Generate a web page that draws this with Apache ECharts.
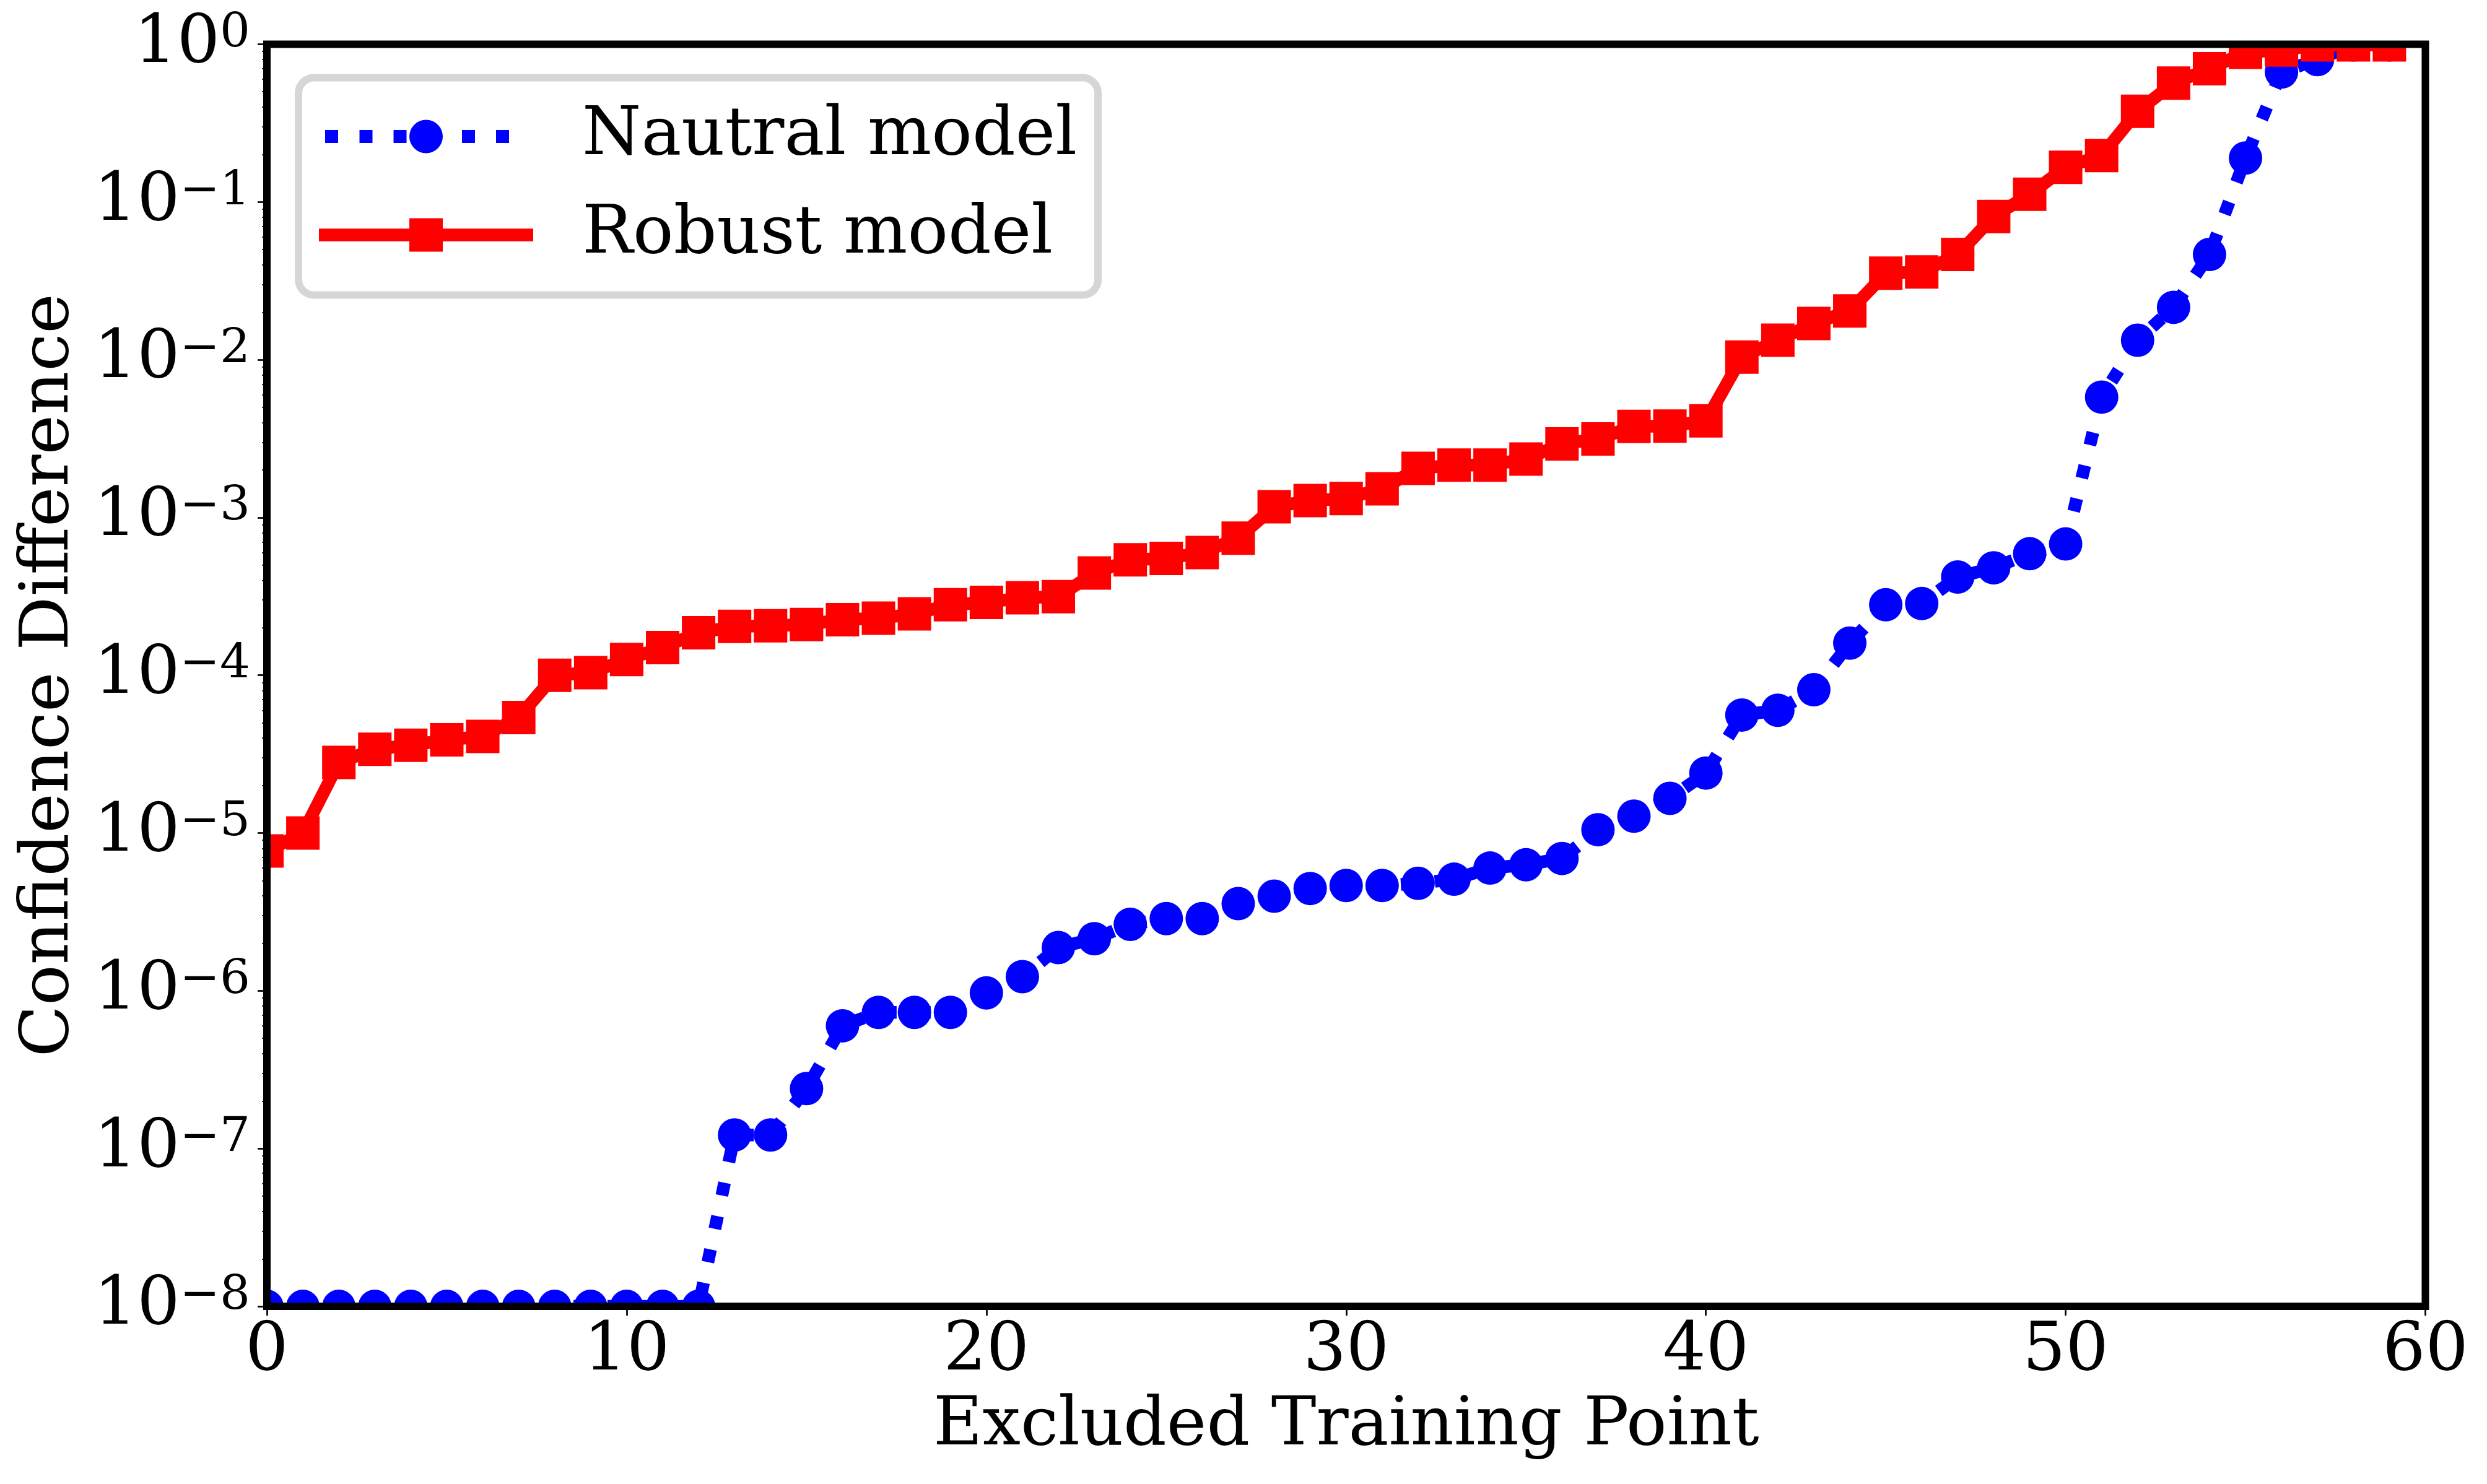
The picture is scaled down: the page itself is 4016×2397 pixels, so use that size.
<!DOCTYPE html>
<html>
<head>
<meta charset="utf-8">
<script src="https://cdn.jsdelivr.net/npm/echarts@6/dist/echarts.min.js"></script>
<style>
html,body{margin:0;padding:0;background:#fff;}
#c{width:4016px;height:2397px;}
</style>
</head>
<body>
<div id="c"></div>
<script>
// ---- data ----
const excludedPoints = [
  0,1,2,3,4,5,6,7,8,9,
  10,11,12,13,14,15,16,17,18,19,
  20,21,22,23,24,25,26,27,28,29,
  30,31,32,33,34,35,36,37,38,39,
  40,41,42,43,44,45,46,47,48,49,
  50,51,52,53,54,55,56,57,58,59
];
const nautralModel = [
  1e-8, 1e-8, 1e-8, 1e-8, 1e-8, 1e-8, 1e-8, 1e-8, 1e-8, 1e-8,
  1e-8, 1e-8, 1e-8, 1.22e-7, 1.22e-7, 2.4e-7, 6.0e-7, 7.3e-7, 7.3e-7, 7.3e-7,
  9.7e-7, 1.23e-6, 1.88e-6, 2.14e-6, 2.64e-6, 2.87e-6, 2.87e-6, 3.57e-6, 3.98e-6, 4.45e-6,
  4.65e-6, 4.65e-6, 4.8e-6, 5.1e-6, 6.0e-6, 6.3e-6, 6.9e-6, 1.05e-5, 1.28e-5, 1.66e-5,
  2.4e-5, 5.6e-5, 6.0e-5, 8.1e-5, 1.6e-4, 2.8e-4, 2.85e-4, 4.2e-4, 4.8e-4, 5.9e-4,
  6.8e-4, 5.8e-3, 1.33e-2, 2.15e-2, 4.65e-2, 0.19, 0.667, 0.80, 0.99, 0.99
];
const robustModel = [
  7.7e-6, 1.0e-5, 2.8e-5, 3.4e-5, 3.6e-5, 3.9e-5, 4.1e-5, 5.4e-5, 1.0e-4, 1.04e-4,
  1.26e-4, 1.5e-4, 1.86e-4, 2.04e-4, 2.06e-4, 2.1e-4, 2.25e-4, 2.3e-4, 2.45e-4, 2.8e-4,
  2.9e-4, 3.1e-4, 3.15e-4, 4.45e-4, 5.4e-4, 5.5e-4, 6.0e-4, 7.4e-4, 1.17e-3, 1.28e-3,
  1.32e-3, 1.52e-3, 2.05e-3, 2.15e-3, 2.15e-3, 2.35e-3, 2.93e-3, 3.15e-3, 3.78e-3, 3.8e-3,
  4.1e-3, 1.04e-2, 1.33e-2, 1.7e-2, 2.04e-2, 3.54e-2, 3.6e-2, 4.65e-2, 8.1e-2, 1.12e-1,
  1.66e-1, 1.97e-1, 3.76e-1, 5.67e-1, 7.0e-1, 0.89, 0.92, 0.99, 0.99, 0.99
];
const xTickValues = [0, 10, 20, 30, 40, 50, 60];
const yMajorTicks = [1e-8, 1e-7, 1e-6, 1e-5, 1e-4, 1e-3, 1e-2, 1e-1, 1];
const seriesNames = ['Nautral model', 'Robust model'];
const xAxisTitle = 'Excluded Training Point';
const yAxisTitle = 'Confidence Difference';

const yMinorTicks = [];
for (let i = 0; i < yMajorTicks.length - 1; i++) {
  for (let k = 2; k <= 9; k++) yMinorTicks.push(k * yMajorTicks[i]);
}

// ---- layout / style ----
const FONT = 'DejaVu Serif';
const FS = 109;
const G = { left: 431, top: 71.5, width: 3485.5, height: 2038.5 };
const right = G.left + G.width, bottom = G.top + G.height;

// legend handle icons (line + marker), drawn in a 346 x 54 box
const ICON_W = 346, ICON_H = 54;
const robustIcon = 'path://M0,16.75 L346,16.75 L346,37.25 L0,37.25 Z ' +
  'M146,0 L200,0 L200,54 L146,54 Z';
const nautralIcon = 'path://M0,27 L0.01,27 L0,27.01 Z M346,27 L345.99,27 L346,27.01 Z ' +
  'M10,16.5 L31,16.5 L31,37.5 L10,37.5 Z ' +
  'M65.5,16.5 L86.5,16.5 L86.5,37.5 L65.5,37.5 Z ' +
  'M120.5,16.5 L141.5,16.5 L141.5,37.5 L120.5,37.5 Z ' +
  'M231,16.5 L252,16.5 L252,37.5 L231,37.5 Z ' +
  'M286,16.5 L307,16.5 L307,37.5 L286,37.5 Z ' +
  'M146,27 A27,27 0 1 1 200,27 A27,27 0 1 1 146,27 Z';

const chart = echarts.init(document.getElementById('c'), null, { renderer: 'canvas' });

function supLabel(v) {
  const e = Math.round(Math.log10(v));
  const s = e < 0 ? '\u2212' + Math.abs(e) : String(e);
  return '{b|10}{s|' + s + '}';
}

const option = {
  animation: false,
  backgroundColor: '#fff',
  grid: {
    left: G.left, top: G.top, width: G.width, height: G.height,
    show: true, borderColor: '#000', borderWidth: 12, backgroundColor: 'transparent',
    containLabel: false, outerBoundsMode: 'none', z: 100
  },
  legend: {
    orient: 'vertical',
    left: 482, top: 125.5,
    itemWidth: ICON_W, itemHeight: ICON_H, itemGap: 49,
    padding: [40, 34, 42, 33],
    borderColor: '#d6d6d6', borderWidth: 12, borderRadius: 25,
    backgroundColor: '#fff',
    itemStyle: { borderWidth: 0 },
    symbolKeepAspect: false,
    textStyle: { fontFamily: FONT, fontSize: FS, color: '#000', lineHeight: 110, padding: [0, 0, 0, 74] },
    data: [
      { name: seriesNames[0], icon: nautralIcon },
      { name: seriesNames[1], icon: robustIcon }
    ]
  },
  xAxis: [{
    type: 'value', min: 0, max: 60, interval: 10, z: 100,
    axisLine: { show: false },
    axisTick: { show: true, length: 15, lineStyle: { color: '#000', width: 2.7 }, customValues: xTickValues },
    axisLabel: { fontFamily: FONT, fontSize: FS, color: '#000', margin: 19, customValues: xTickValues },
    splitLine: { show: false },
    name: xAxisTitle, nameLocation: 'middle', nameGap: 140,
    nameTextStyle: { fontFamily: FONT, fontSize: FS, color: '#000' }
  }],
  yAxis: [{
    type: 'log', logBase: 10, min: 1e-8, max: 1, z: 100,
    axisLine: { show: false },
    axisTick: { show: true, length: 15, lineStyle: { color: '#000', width: 2.7 }, customValues: yMajorTicks },
    axisLabel: {
      customValues: yMajorTicks, margin: 27, color: '#000',
      formatter: supLabel,
      rich: {
        b: { fontFamily: FONT, fontSize: FS, lineHeight: 110, color: '#000', verticalAlign: 'middle' },
        s: { fontFamily: FONT, fontSize: 77, lineHeight: 55, color: '#000', verticalAlign: 'top' }
      }
    },
    splitLine: { show: false },
    minorTick: { show: false },
    name: yAxisTitle, nameLocation: 'middle', nameGap: 296,
    nameTextStyle: { fontFamily: FONT, fontSize: FS, color: '#000' }
  }, {
    type: 'log', logBase: 10, min: 1e-8, max: 1, position: 'left', z: 100,
    axisLine: { show: false },
    axisTick: { show: true, length: 8, lineStyle: { color: '#000', width: 1.6 }, customValues: yMinorTicks },
    axisLabel: { show: false },
    splitLine: { show: false }
  }],
  graphic: {
    elements: [
      { type: 'rect', silent: true, z: 50, shape: { x: 370, y: 20, width: G.left - 370, height: 2140 - 20 }, style: { fill: '#fff' } },
      { type: 'rect', silent: true, z: 50, shape: { x: 370, y: bottom, width: 3980 - 370, height: 2140 - bottom }, style: { fill: '#fff' } },
      { type: 'rect', silent: true, z: 50, shape: { x: 370, y: 20, width: 3980 - 370, height: G.top - 20 }, style: { fill: '#fff' } },
      { type: 'rect', silent: true, z: 50, shape: { x: right, y: 20, width: 3980 - right, height: 2140 - 20 }, style: { fill: '#fff' } }
    ]
  },
  series: [{
    name: seriesNames[0], type: 'line', xAxisIndex: 0, yAxisIndex: 0, clip: false,
    data: excludedPoints.map((x, i) => [x, nautralModel[i]]),
    symbol: 'circle', symbolSize: 54,
    itemStyle: { color: '#0000ff', borderWidth: 0 },
    lineStyle: { color: '#0000ff', width: 20.5, type: [21, 34], cap: 'butt' }
  }, {
    name: seriesNames[1], type: 'line', xAxisIndex: 0, yAxisIndex: 0, clip: false,
    data: excludedPoints.map((x, i) => [x, robustModel[i]]),
    symbol: 'rect', symbolSize: 54,
    itemStyle: { color: '#ff0000', borderWidth: 0 },
    lineStyle: { color: '#ff0000', width: 20.5, type: 'solid', join: 'round' }
  }]
};
chart.setOption(option);
</script>
</body>
</html>
